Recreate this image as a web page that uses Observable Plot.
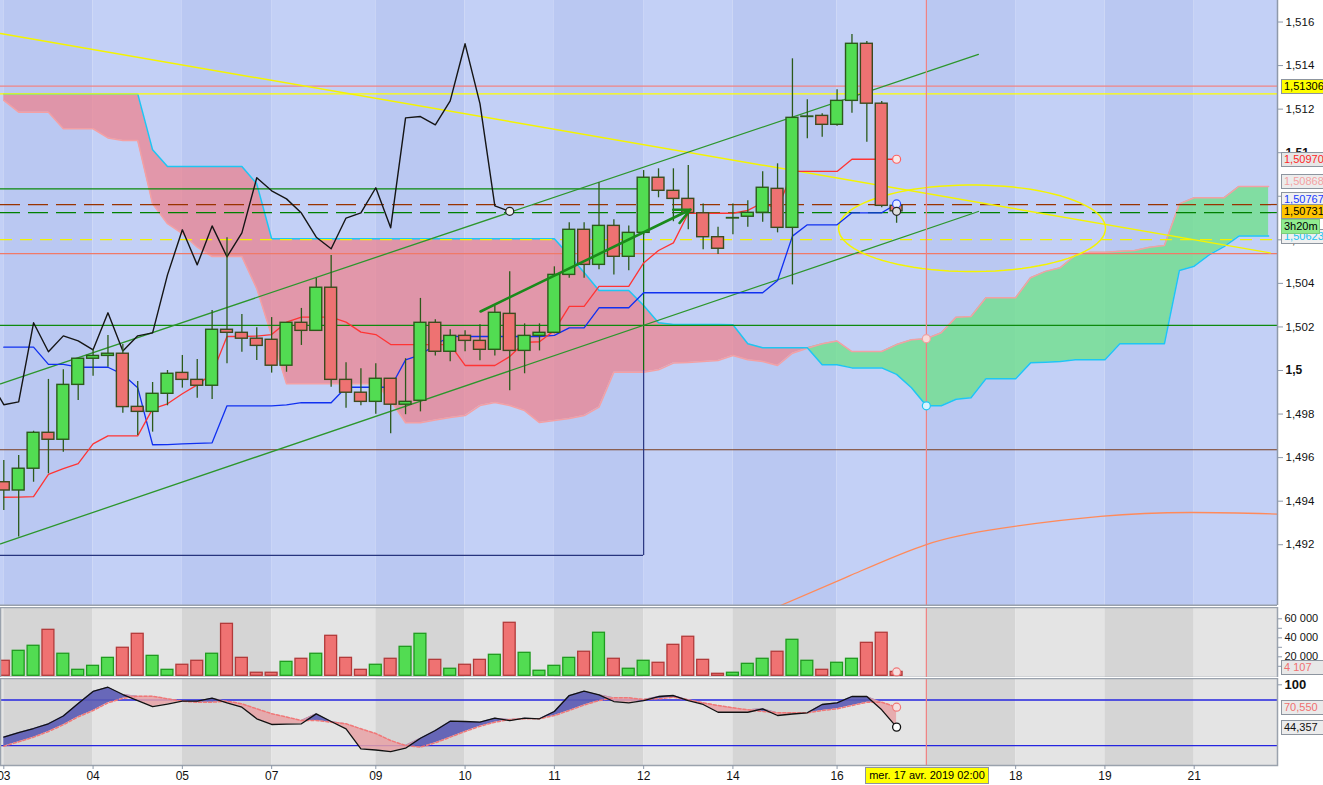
<!DOCTYPE html>
<html>
<head>
<meta charset="utf-8">
<script src="https://cdn.jsdelivr.net/npm/d3@7"></script>
<script src="https://cdn.jsdelivr.net/npm/@observablehq/plot@0.6"></script>
<style>
html,body{margin:0;padding:0;background:#fff;overflow:hidden;}
#wrap{position:relative;width:1323px;height:785px;font-family:"Liberation Sans",Arial,sans-serif;}
#wrap svg{position:absolute;left:0;}
.lbl{position:absolute;left:1281px;width:40px;height:13px;border:1px solid #8d959f;font-size:11px;line-height:13px;padding-left:2px;overflow:hidden;white-space:nowrap;}
</style>
</head>
<body>
<div id="wrap"></div>
<script>
// ---------------- DATA ----------------
const opens = [
1.49487,1.49449,1.49549,1.49714,1.49682,1.49934,1.50054,1.50067,1.50077,1.49833,
1.49810,1.49893,1.49989,1.49957,1.49930,1.50187,1.50173,1.50146,1.50141,1.50022,
1.50219,1.50182,1.50380,1.49957,1.49898,1.49856,1.49962,1.49843,1.49861,1.50219,
1.50086,1.50159,1.50136,1.50095,1.50260,1.50090,1.50159,1.50173,1.50439,1.50646,
1.50485,1.50664,1.50522,1.50632,1.50885,1.50825,1.50788,1.50722,1.50612,1.50698,
1.50706,1.50724,1.50834,1.50655,1.51164,1.51169,1.51128,1.51238,1.51500,1.51225,
1.50756];
const highs = [
1.49587,1.49610,1.49721,1.49959,1.50003,1.50055,1.50095,1.50161,1.50119,1.49950,
1.49945,1.50000,1.50069,1.50051,1.50275,1.50609,1.50257,1.50196,1.50243,1.50220,
1.50285,1.50424,1.50528,1.50035,1.50008,1.50031,1.49962,1.50054,1.50331,1.50233,
1.50187,1.50182,1.50210,1.50297,1.50453,1.50214,1.50214,1.50476,1.50678,1.50678,
1.50862,1.50692,1.50664,1.50918,1.50926,1.50926,1.50941,1.50765,1.50658,1.50765,
1.50779,1.50912,1.50949,1.51431,1.51243,1.51179,1.51289,1.51543,1.51511,1.51235,
1.50765];
const lows = [
1.49357,1.49235,1.49487,1.49526,1.49625,1.49862,1.49974,1.50015,1.49804,1.49702,
1.49717,1.49838,1.49919,1.49873,1.49867,1.50031,1.50084,1.50046,1.49988,1.49992,
1.50115,1.50182,1.49923,1.49827,1.49838,1.49799,1.49709,1.49797,1.49810,1.50067,
1.50040,1.50086,1.50045,1.50067,1.49907,1.49985,1.50090,1.50169,1.50424,1.50424,
1.50462,1.50439,1.50458,1.50620,1.50793,1.50683,1.50646,1.50554,1.50533,1.50623,
1.50658,1.50681,1.50632,1.50393,1.51064,1.51071,1.51122,1.51181,1.51048,1.50747,
1.50676];
const closes = [
1.49449,1.49549,1.49714,1.49682,1.49934,1.50054,1.50067,1.50077,1.49832,1.49810,
1.49893,1.49985,1.49957,1.49930,1.50187,1.50173,1.50146,1.50113,1.50022,1.50219,
1.50182,1.50380,1.49957,1.49898,1.49856,1.49962,1.49843,1.49856,1.50219,1.50086,
1.50159,1.50136,1.50095,1.50265,1.50090,1.50159,1.50173,1.50439,1.50646,1.50485,
1.50664,1.50522,1.50632,1.50885,1.50825,1.50788,1.50723,1.50612,1.50559,1.50700,
1.50724,1.50839,1.50655,1.51160,1.51166,1.51128,1.51238,1.51500,1.51225,1.50756,
1.50731];
const volumes = [
15800,26300,31600,48400,23200,6300,10500,18900,29500,44200,
21000,6300,11600,15800,23200,54700,18900,3200,3200,14700,
17900,23200,42100,18900,6300,11600,17900,30500,44200,16800,
7400,11600,16800,22100,55800,24200,5300,10500,18900,25300,
45300,17900,7400,15800,13700,32600,41100,16800,2100,3200,
12600,17900,25300,37900,15800,6300,13700,17900,34700,45300,
4107];
const tenkan = [
1.49418,1.49419,1.49421,1.49523,1.49549,1.49572,1.49663,1.49700,1.49700,1.49700,
1.49824,1.49847,1.49893,1.49934,1.49985,1.50156,1.50156,1.50158,1.50165,1.50222,
1.50245,1.50245,1.50245,1.50222,1.50176,1.50165,1.50119,1.50119,1.50119,1.50119,
1.50119,1.50023,1.50023,1.50023,1.50064,1.50129,1.50132,1.50184,1.50294,1.50294,
1.50386,1.50386,1.50386,1.50494,1.50551,1.50586,1.50722,1.50722,1.50722,1.50722,
1.50735,1.50770,1.50742,1.50914,1.50914,1.50914,1.50914,1.50970,1.50970,1.50970,
1.50970];
const kijun = [
1.50107,1.50107,1.50107,1.50028,1.50028,1.50015,1.50015,1.50015,1.49982,1.49921,
1.49659,1.49660,1.49663,1.49665,1.49668,1.49838,1.49838,1.49838,1.49838,1.49842,
1.49852,1.49852,1.49852,1.49923,1.49923,1.49923,1.49923,1.50049,1.50072,1.50118,
1.50157,1.50156,1.50156,1.50156,1.50156,1.50156,1.50156,1.50161,1.50196,1.50196,
1.50288,1.50288,1.50288,1.50357,1.50357,1.50357,1.50357,1.50357,1.50357,1.50357,
1.50357,1.50357,1.50413,1.50617,1.50669,1.50669,1.50669,1.50724,1.50724,1.50724,
1.50765];
const spanA = [
1.51240,1.51186,1.51186,1.51186,1.51110,1.51110,1.51110,1.51068,1.51056,1.51056,
1.50765,1.50674,1.50628,1.50566,1.50523,1.50523,1.50523,1.50376,1.50161,1.49939,
1.49939,1.49939,1.49939,1.49939,1.49939,1.49939,1.49862,1.49760,1.49760,1.49773,
1.49784,1.49793,1.49839,1.49853,1.49839,1.49816,1.49761,1.49770,1.49780,1.49793,
1.49832,1.49992,1.49992,1.49992,1.50003,1.50034,1.50037,1.50041,1.50046,1.50069,
1.50049,1.50041,1.50023,1.50079,1.50102,1.50123,1.50135,1.50087,1.50087,1.50087,
1.50119,1.50141,1.50146,1.50173,1.50245,1.50248,1.50334,1.50334,1.50334,1.50426,
1.50455,1.50472,1.50528,1.50543,1.50543,1.50548,1.50551,1.50566,1.50574,1.50765,
1.50793,1.50793,1.50793,1.50845,1.50845,1.50845];
const spanB = [
1.51270,1.51270,1.51270,1.51270,1.51270,1.51270,1.51270,1.51270,1.51270,1.51270,
1.51013,1.50937,1.50937,1.50937,1.50937,1.50937,1.50937,1.50857,1.50605,1.50605,
1.50605,1.50605,1.50605,1.50605,1.50605,1.50605,1.50605,1.50605,1.50605,1.50605,
1.50605,1.50605,1.50605,1.50605,1.50605,1.50605,1.50605,1.50605,1.50528,1.50450,
1.50367,1.50367,1.50367,1.50298,1.50219,1.50211,1.50211,1.50211,1.50211,1.50210,
1.50123,1.50104,1.50104,1.50104,1.50104,1.50026,1.50026,1.50012,1.50012,1.50012,
1.49982,1.49921,1.49838,1.49838,1.49868,1.49875,1.49962,1.49962,1.49962,1.50035,
1.50038,1.50041,1.50049,1.50049,1.50049,1.50123,1.50123,1.50123,1.50123,1.50459,
1.50479,1.50531,1.50569,1.50617,1.50617,1.50617];
const stochK = [
31.3,37.2,42.5,48.7,58.9,75.4,91.2,96.8,87.2,79.3,
71.4,74.7,78.4,78.4,82.4,76.3,70.5,55.3,47.8,48.2,
48.7,61.8,51.7,42.1,15.8,14.2,12.2,16.6,29.7,39.9,
52.1,51.7,50.8,56.1,53.0,56.1,55.3,64.9,85.9,91.6,
86.8,78.0,76.3,79.3,84.6,85.9,79.3,74.1,63.9,63.9,
63.9,68.4,59.6,61.6,63.2,74.1,76.3,84.6,84.6,67.1,
44.357];
const stochD = [
19.2,25.0,31.1,38.6,47.4,57.9,66.2,76.3,82.2,85.0,
85.0,81.6,78.4,77.1,77.1,78.4,75.0,68.4,62.0,57.6,
53.0,53.0,50.8,48.7,42.1,35.9,26.7,20.1,17.9,23.7,
31.1,38.6,45.5,50.8,54.3,55.3,55.3,59.6,66.2,73.4,
79.3,82.9,82.9,80.7,81.6,83.7,80.3,76.3,72.8,69.7,
67.1,64.9,63.2,63.2,63.2,66.2,68.4,72.8,77.1,77.1,
70.55];
const oscLevels = [80, 20];
const dayStarts = [0, 6, 12, 18, 25, 31, 37, 43, 49, 56, 62, 68, 74, 80];
const tickIdx = [0, 6, 12, 18, 25, 31, 37, 43, 49, 56, 68, 74, 80];
const tickLab = ["03","04","05","07","09","10","11","12","14","16","18","19","21"];
const cursorIdx = 62;
const cursorDate = "mer. 17 avr. 2019 02:00";
const yTicks = [1.492,1.494,1.496,1.498,1.5,1.502,1.504,1.506,1.508,1.51,1.512,1.514,1.516];
const yBoldTicks = [1.5, 1.51];
const volTicks = [10000,20000,30000,40000,50000,60000];
const hLevels = [1.51306, 1.51270, 1.50762, 1.50725, 1.50601, 1.50537, 1.50207, 1.49636];
const boxLevels = [1.50834, 1.49151];
const boxRight = 43;
const trendX = [-0.222, 85.1];
const trendY = [1.51547, 1.50540];
const chanX = [-0.222, 65.5];
const chanUpY = [1.49939, 1.51451];
const chanLoY = [1.49204, 1.50730];
const arrowX = [32.04, 46.15];
const arrowY = [1.50271, 1.50739];
const ellipseC = [65.07, 1.50653];
const ellipseR = [8.97, 0.001988];
const arcIdx = [50.85, 52.2, 56.9, 62.0, 67.0, 73.7, 79.75, 85.6];
const arcPrice = [1.48875, 1.48921, 1.49059, 1.49201, 1.49275, 1.49330, 1.49348, 1.49341];
const priceLabels = [1.51306, 1.50970, 1.50868, 1.50767, 1.50623, 1.50731];
const countdown = "3h20m";
const oscLabels = [70.55, 44.357];

// ---------------- SETUP ----------------
const wrap = document.getElementById("wrap");
const X0 = -0.2218, X1 = 85.598;
const P_MIN = 1.48921, P_MAX = 1.516988;
const V_MIN = -1789, V_MAX = 71895;
const O_MIN = -6.18, O_MAX = 108.3;
const HW = 0.4;
const FONT = "'Liberation Sans', Arial, sans-serif";
const AXC = "#8e99aa";

const bars = closes.map((c, i) => ({i, o: opens[i], h: highs[i], l: lows[i], c, up: c >= opens[i],
  v: volumes[i], k: stochK[i], d: stochD[i], t: tenkan[i], kj: kijun[i]}));
const upBars = bars.filter(b => b.up), dnBars = bars.filter(b => !b.up);
const last = bars[bars.length - 1];
const cloud = spanA.map((a, i) => ({i, a, b: spanB[i]}));
const chikou = closes.map((c, i) => ({i: i - 26, c})).filter(d => d.i >= -1);
const stripes = [{x1: X0, x2: 0, dark: false}].concat(
  dayStarts.map((s, k) => ({x1: s, x2: k + 1 < dayStarts.length ? dayStarts[k + 1] : X1, dark: k % 2 === 0})));
const ell = d3.range(0, 361, 4).map(a => ({x: ellipseC[0] + ellipseR[0] * Math.cos(a * Math.PI / 180),
  y: ellipseC[1] + ellipseR[1] * Math.sin(a * Math.PI / 180)}));
const arc = arcIdx.map((x, k) => ({x, y: arcPrice[k]}));
const fmtP = d => String(+d.toFixed(3)).replace(".", ",");
const fmtV = d => d3.format(",")(d).replace(/,/g, " ");

const levelStyle = [
  {stroke: "#f08484"}, {stroke: "#ffff00"}, {stroke: "#993300", dash: "20,8"}, {stroke: "#008000", dash: "20,8"},
  {stroke: "#f2f200", dash: "12,8"}, {stroke: "#f07a68"}, {stroke: "#0e8a0e"}, {stroke: "#7a3c1c"}];

const common = {width: 1323, marginLeft: 0, marginRight: 46, color: {type: "identity"},
  style: {background: "transparent", fontFamily: FONT, overflow: "hidden"}};

// ---------------- MAIN PRICE PANEL ----------------
const main = Plot.plot({
  ...common, height: 606, marginTop: 0, marginBottom: 1,
  x: {domain: [X0, X1], axis: null},
  y: {domain: [P_MIN, P_MAX]},
  marks: [
    Plot.rect(stripes, {x1: "x1", x2: "x2", y1: P_MIN, y2: P_MAX, fill: d => d.dark ? "#bac8f2" : "#c3d0f6"}),
    Plot.areaY(cloud, {x: "i", y1: "a", y2: d => Math.max(d.a, d.b), fill: "#f07f8a", fillOpacity: 0.7}),
    Plot.areaY(cloud, {x: "i", y1: "b", y2: d => Math.max(d.a, d.b), fill: "#6ee08a", fillOpacity: 0.78}),
    Plot.line(cloud, {x: "i", y: "a", stroke: "#f3a0a4", strokeWidth: 1.5}),
    Plot.line(cloud, {x: "i", y: "b", stroke: "#1ec6f2", strokeWidth: 1.5}),
    ...hLevels.map((v, k) => Plot.ruleY([v], {stroke: levelStyle[k].stroke, strokeDasharray: levelStyle[k].dash, strokeWidth: 1.2})),
    Plot.ruleY([boxLevels[0]], {x1: X0, x2: boxRight, stroke: "#0a8a0a", strokeWidth: 1.2}),
    Plot.ruleY([boxLevels[1]], {x1: X0, x2: boxRight, stroke: "#27347e", strokeWidth: 1.2}),
    Plot.ruleX([boxRight], {y1: boxLevels[0], y2: 1.5, stroke: "#0a6a0a", strokeWidth: 1.2}),
    Plot.ruleX([boxRight], {y1: 1.5, y2: boxLevels[1], stroke: "#27347e", strokeWidth: 1.2}),
    Plot.line(trendX.map((x, k) => ({x, y: trendY[k]})), {x: "x", y: "y", stroke: "#f4f400", strokeWidth: 1.5}),
    Plot.line(chanX.map((x, k) => ({x, y: chanUpY[k]})), {x: "x", y: "y", stroke: "#2c962c", strokeWidth: 1.3}),
    Plot.line(chanX.map((x, k) => ({x, y: chanLoY[k]})), {x: "x", y: "y", stroke: "#2c962c", strokeWidth: 1.3}),
    Plot.line(ell, {x: "x", y: "y", stroke: "#f4f400", strokeWidth: 1.5}),
    Plot.line(arc, {x: "x", y: "y", stroke: "#ff8a5a", strokeWidth: 1.3, curve: "natural"}),
    Plot.line(bars, {x: "i", y: "kj", stroke: "#1030f0", strokeWidth: 1.3}),
    Plot.line(bars, {x: "i", y: "t", stroke: "#ff3434", strokeWidth: 1.3}),
    Plot.line(chikou, {x: "i", y: "c", stroke: "#151515", strokeWidth: 1.4}),
    Plot.ruleX(bars, {x: "i", y1: "l", y2: "h", stroke: "#2b5a1a", strokeWidth: 1.3}),
    Plot.rect(upBars, {x1: d => d.i - HW, x2: d => d.i + HW, y1: "o", y2: "c", fill: "#52dc52", stroke: "#2b5a1a", strokeWidth: 1.4, ariaLabel: "body-up"}),
    Plot.rect(dnBars, {x1: d => d.i - HW, x2: d => d.i + HW, y1: "o", y2: "c", fill: "#ee7272", stroke: "#3d4a1e", strokeWidth: 1.4, ariaLabel: "body-dn"}),
    Plot.arrow([{x1: arrowX[0], y1: arrowY[0], x2: arrowX[1], y2: arrowY[1]}], {x1: "x1", y1: "y1", x2: "x2", y2: "y2", stroke: "#1a8a1a", strokeWidth: 2.6, headLength: 10, headAngle: 50}),
    Plot.ruleX([cursorIdx], {stroke: "#f08080", strokeWidth: 1.2}),
    Plot.dot([chikou[chikou.length - 1]], {x: "i", y: "c", r: 4, fill: "#eeeeee", stroke: "#222", strokeWidth: 1.2}),
    Plot.dot([last], {x: "i", y: "t", r: 4, fill: "#f8e8e8", stroke: "#ff6060", strokeWidth: 1.2}),
    Plot.dot([last], {x: "i", y: "kj", r: 4, fill: "#e8ecff", stroke: "#3050ff", strokeWidth: 1.2}),
    Plot.dot([last], {x: "i", y: "c", r: 4, fill: "#dddddd", stroke: "#222", strokeWidth: 1.2}),
    Plot.dot([cloud[cursorIdx]], {x: "i", y: "a", r: 4, fill: "#f8dada", stroke: "#f0a0a0", strokeWidth: 1.2}),
    Plot.dot([cloud[cursorIdx]], {x: "i", y: "b", r: 4, fill: "#d8f4ff", stroke: "#1ec6f2", strokeWidth: 1.2}),
    Plot.ruleX([X1], {stroke: AXC, strokeWidth: 1.5}),
    Plot.ruleY([P_MIN], {stroke: "#98a0ab", strokeWidth: 2}),
    Plot.axisY({ticks: yTicks.filter(t => !yBoldTicks.includes(t)), anchor: "right", label: null, tickSize: 5, tickPadding: 3, fontSize: 11.5, stroke: AXC, fill: "#111", tickFormat: fmtP}),
    Plot.axisY({ticks: yBoldTicks, anchor: "right", label: null, tickSize: 5, tickPadding: 3, fontSize: 12, fontWeight: "bold", stroke: AXC, fill: "#111", tickFormat: fmtP})
  ]
});

// ---------------- VOLUME PANEL ----------------
const vol = Plot.plot({
  ...common, height: 70, marginTop: 0, marginBottom: 0,
  x: {domain: [X0, X1], axis: null},
  y: {domain: [V_MIN, V_MAX], label: null},
  marks: [
    Plot.rect(stripes, {x1: "x1", x2: "x2", y1: V_MIN, y2: V_MAX, fill: d => d.dark ? "#d5d5d5" : "#e4e4e4"}),
    Plot.rect(upBars, {x1: d => d.i - HW, x2: d => d.i + HW, y1: 0, y2: "v", fill: "#52dc52", stroke: "#1f9a1f", strokeWidth: 1.3, ariaLabel: "vol-up"}),
    Plot.rect(dnBars, {x1: d => d.i - HW, x2: d => d.i + HW, y1: 0, y2: "v", fill: "#ef7272", stroke: "#b23a3a", strokeWidth: 1.3, ariaLabel: "vol-dn"}),
    Plot.ruleX([cursorIdx], {stroke: "#f08080", strokeWidth: 1.2}),
    Plot.dot([last], {x: "i", y: "v", r: 4, fill: "#f5e0e0", stroke: "#f07878", strokeWidth: 1.2}),
    Plot.frame({stroke: "#9aa2ad", strokeWidth: 1.5}),
    Plot.axisY({ticks: volTicks, anchor: "right", label: null, tickSize: 4, tickPadding: 3, fontSize: 11, stroke: AXC, fill: "#111",
      tickFormat: d => d % 20000 ? "" : fmtV(d)})
  ]
});

// ---------------- STOCHASTIC PANEL ----------------
const tickMap = new Map(tickIdx.map((t, k) => [t, tickLab[k]]));
const osc = Plot.plot({
  ...common, height: 107, marginTop: 0, marginBottom: 20,
  x: {domain: [X0, X1], label: null},
  y: {domain: [O_MIN, O_MAX], label: null},
  marks: [
    Plot.rect(stripes, {x1: "x1", x2: "x2", y1: O_MIN, y2: O_MAX, fill: d => d.dark ? "#d5d5d5" : "#e4e4e4"}),
    Plot.ruleY(oscLevels, {stroke: "#2424e0", strokeWidth: 1.3}),
    Plot.areaY(bars, {x: "i", y1: "d", y2: b => Math.max(b.k, b.d), fill: "#5a5ab4", fillOpacity: 0.9}),
    Plot.areaY(bars, {x: "i", y1: "k", y2: b => Math.max(b.k, b.d), fill: "#e8a2a6", fillOpacity: 0.85}),
    Plot.line(bars, {x: "i", y: "d", stroke: "#f07878", strokeWidth: 1.5, strokeDasharray: "3,2"}),
    Plot.line(bars, {x: "i", y: "k", stroke: "#111", strokeWidth: 1.3}),
    Plot.ruleX([cursorIdx], {stroke: "#f08080", strokeWidth: 1.2}),
    Plot.dot([last], {x: "i", y: "d", r: 4, fill: "#f5e0e0", stroke: "#f07878", strokeWidth: 1.2}),
    Plot.dot([last], {x: "i", y: "k", r: 4, fill: "#ffffff", stroke: "#111", strokeWidth: 1.3}),
    Plot.frame({stroke: "#9aa2ad", strokeWidth: 1.5}),
    Plot.axisY({ticks: [100], anchor: "right", label: null, tickSize: 4, tickPadding: 3, fontSize: 13, fontWeight: "bold", stroke: AXC, fill: "#111", tickFormat: d => String(d)}),
    Plot.axisX({ticks: tickIdx, anchor: "bottom", label: null, tickSize: 4, tickPadding: 2, fontSize: 12, stroke: AXC, fill: "#111", tickFormat: d => tickMap.get(d)})
  ]
});

// ---------------- ASSEMBLE ----------------
[[main, 0], [vol, 607], [osc, 678]].forEach(([svg, top]) => {
  svg.style.position = "absolute"; svg.style.top = top + "px"; svg.style.left = "0px";
  wrap.appendChild(svg);
});

const NS = "http://www.w3.org/2000/svg";
function addDefs(svg, sfx) {
  const defs = document.createElementNS(NS, "defs");
  defs.innerHTML =
    '<linearGradient id="gUp' + sfx + '" x1="0" x2="1" y1="0" y2="0"><stop offset="0" stop-color="#7cee7c"/><stop offset="1" stop-color="#3cc43c"/></linearGradient>' +
    '<linearGradient id="gDn' + sfx + '" x1="0" x2="1" y1="0" y2="0"><stop offset="0" stop-color="#f69a9a"/><stop offset="1" stop-color="#dc6262"/></linearGradient>';
  svg.insertBefore(defs, svg.firstChild);
}
addDefs(main, "M");
addDefs(vol, "V");
const paint = (svg, label, url) => svg.querySelectorAll('g[aria-label="' + label + '"] rect')
  .forEach(el => el.setAttribute("fill", url));
paint(main, "body-up", "url(#gUpM)");
paint(main, "body-dn", "url(#gDnM)");
paint(vol, "vol-up", "url(#gUpV)");
paint(vol, "vol-dn", "url(#gDnV)");

function box(text, top, bg, fg, extra) {
  const d = document.createElement("div");
  d.className = "lbl";
  d.textContent = text;
  d.style.top = Math.round(top - 7) + "px";
  d.style.background = bg;
  d.style.color = fg;
  if (extra) Object.assign(d.style, extra);
  wrap.appendChild(d);
  return d;
}
const ys = main.scale("y");
const labelStyle = [
  {bg: "#ffff00", fg: "#000", dy: 0}, {bg: "#e6e6e6", fg: "#ff2626", dy: 0}, {bg: "#ececec", fg: "#f4a2a2", dy: 0},
  {bg: "#f0f0f0", fg: "#1a3cff", dy: -4}, {bg: "#f0f0f0", fg: "#22c4f2", dy: 2}, {bg: "#ffc400", fg: "#000", dy: 0}];
priceLabels.forEach((v, k) => box(v.toFixed(5).replace(".", ","), ys.apply(v) + labelStyle[k].dy, labelStyle[k].bg, labelStyle[k].fg));
box(countdown, ys.apply(priceLabels[5]) + 15, "#90ec90", "#000", {border: "1px solid #7ccc7c", width: "35px"});

const vs = vol.scale("y");
box(fmtV(last.v), 607 + vs.apply(last.v) - 4, "#e8e8e8", "#f07070");
const os = osc.scale("y");
box(oscLabels[0].toFixed(3).replace(".", ","), 678 + os.apply(oscLabels[0]), "#eaeaea", "#f07070");
box(oscLabels[1].toFixed(3).replace(".", ","), 678 + os.apply(oscLabels[1]), "#ececec", "#111");

const xs = osc.scale("x");
const dl = document.createElement("div");
dl.textContent = cursorDate;
Object.assign(dl.style, {position: "absolute", left: Math.round(xs.apply(cursorIdx) - 61) + "px", top: "767px", width: "122px", height: "15px",
  background: "#ffff00", border: "1px solid #8d959f", fontSize: "11px", lineHeight: "15px", textAlign: "center", color: "#000", whiteSpace: "nowrap", overflow: "hidden"});
wrap.appendChild(dl);
</script>
</body>
</html>
